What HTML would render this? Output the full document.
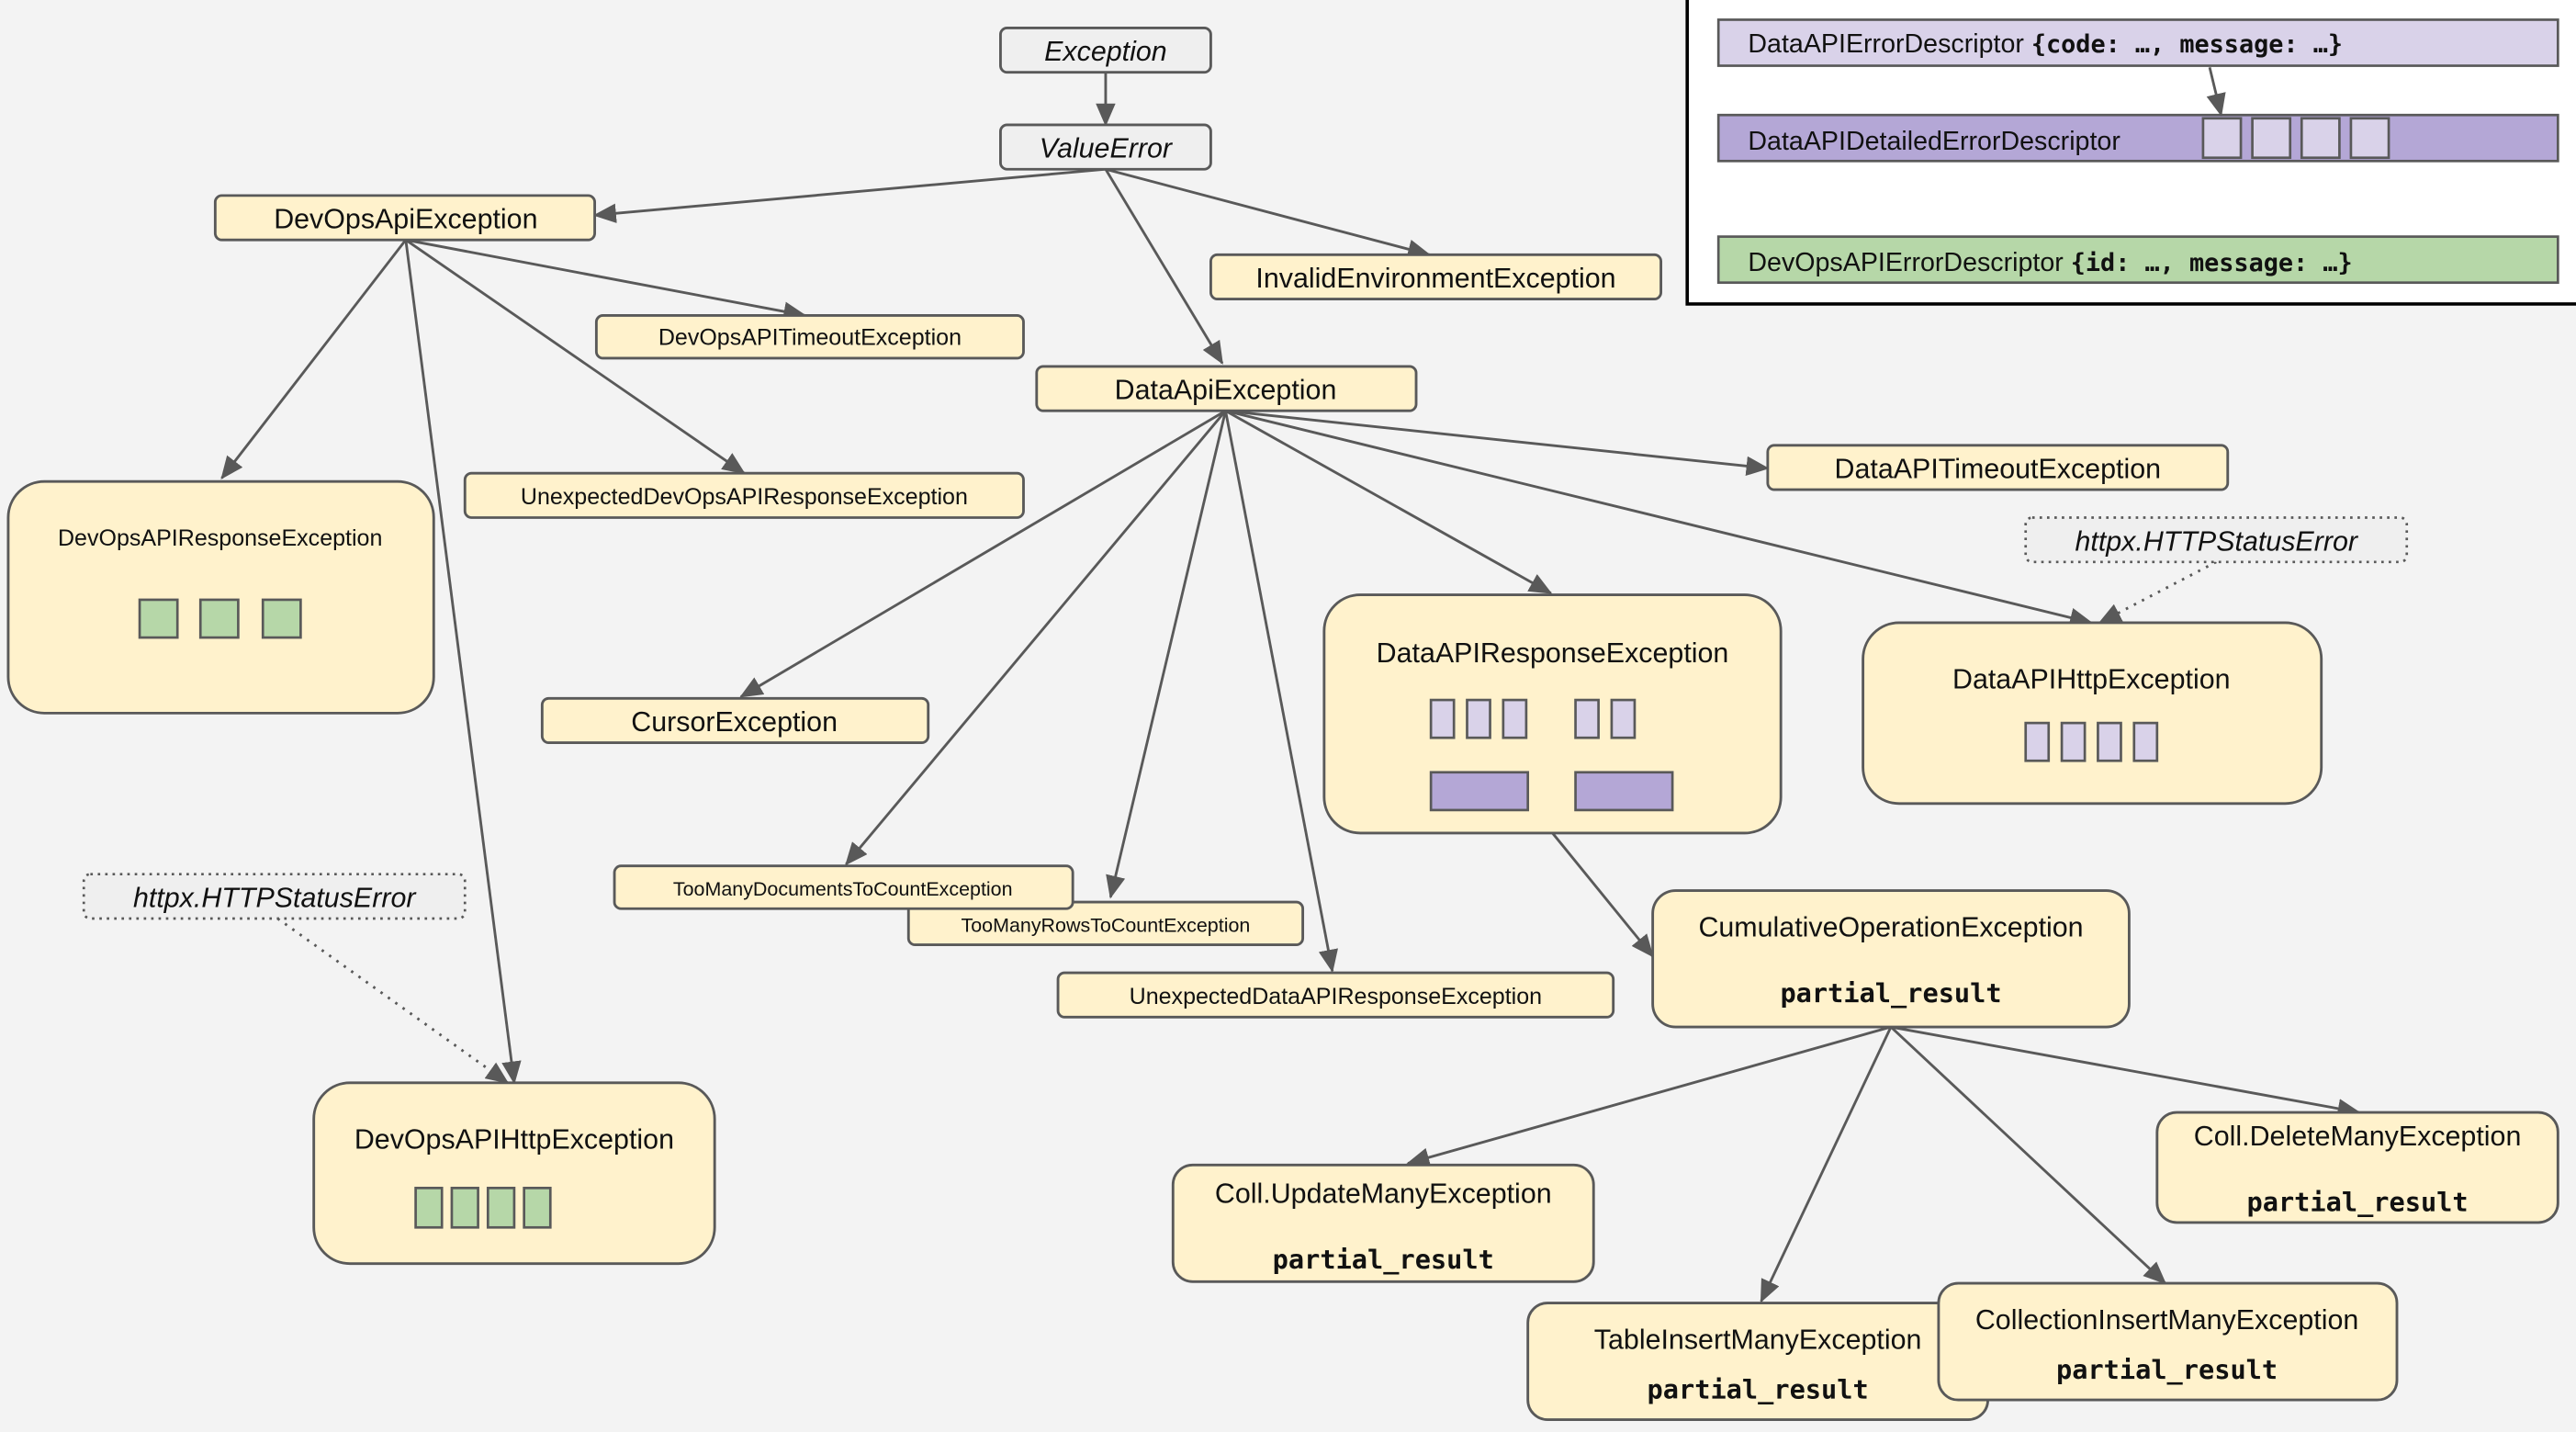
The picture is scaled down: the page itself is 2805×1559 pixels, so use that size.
<!DOCTYPE html>
<html><head><meta charset="utf-8"><style>
html,body{margin:0;padding:0;background:#f3f3f3;}
svg{display:block;}
text{font-family:"Liberation Sans",sans-serif;fill:#111;}
.m{font-family:"DejaVu Sans Mono","Liberation Mono",monospace;font-weight:bold;}
.b{fill:#fff2cc;stroke:#595959;stroke-width:1.6;}
.g{fill:#efefef;stroke:#595959;stroke-width:1.6;}
.e{stroke:#595959;stroke-width:1.6;fill:none;marker-end:url(#a);}
.d{stroke:#595959;stroke-width:1.6;fill:none;stroke-dasharray:1.5 4;marker-end:url(#a);}
.sq{fill:#b6d7a8;stroke:#595959;stroke-width:1.5;}
.lp{fill:#d9d2e9;stroke:#595959;stroke-width:1.5;}
.dp{fill:#b4a7d6;stroke:#595959;stroke-width:1.5;}
</style></head><body>
<svg width="2805" height="1559" viewBox="0 0 1568 871.5" preserveAspectRatio="none">
<defs><marker id="a" markerWidth="10" markerHeight="10" refX="9" refY="5" orient="auto" markerUnits="userSpaceOnUse" viewBox="0 0 10 10"><path d="M0,0 L10,5 L0,10 z" fill="#595959"/></marker>
<marker id="a2" markerWidth="14" markerHeight="12" refX="13" refY="6" orient="auto" markerUnits="userSpaceOnUse"><path d="M0,0 L14,6 L0,12 z" fill="#595959"/></marker></defs>
<rect width="1568" height="872" fill="#f3f3f3"/>
<style>.e,.d{marker-end:url(#a2);}</style>
<!-- legend -->
<rect x="1027" y="-5" width="550" height="190" fill="#fff" stroke="#000" stroke-width="2"/>
<rect x="1046" y="12" width="511" height="28" class="lp"/>
<text x="1064" y="32" font-size="16">DataAPIErrorDescriptor <tspan class="m" font-size="15">{code: …, message: …}</tspan></text>
<rect x="1046" y="70" width="511" height="28" class="dp"/>
<text x="1064" y="91" font-size="16">DataAPIDetailedErrorDescriptor</text>
<rect x="1341" y="72" width="23" height="24" class="lp"/><rect x="1371" y="72" width="23" height="24" class="lp"/><rect x="1401" y="72" width="23" height="24" class="lp"/><rect x="1431" y="72" width="23" height="24" class="lp"/>
<rect x="1046" y="144" width="511" height="28" class="sq"/>
<text x="1064" y="165" font-size="16">DevOpsAPIErrorDescriptor <tspan class="m" font-size="15">{id: …, message: …}</tspan></text>
<line x1="1345" y1="41" x2="1352" y2="70" class="e"/>
<!-- edges -->
<line x1="673" y1="44" x2="673" y2="76" class="e"/>
<line x1="673" y1="103" x2="362" y2="131" class="e"/>
<line x1="673" y1="103" x2="870" y2="155" class="e"/>
<line x1="673" y1="103" x2="744" y2="221" class="e"/>
<line x1="247" y1="146" x2="135" y2="291" class="e"/>
<line x1="247" y1="146" x2="490" y2="192" class="e"/>
<line x1="247" y1="146" x2="453" y2="288" class="e"/>
<line x1="247" y1="146" x2="313" y2="659" class="e"/>
<line x1="746" y1="250" x2="1076" y2="285" class="e"/>
<line x1="746" y1="250" x2="944" y2="361" class="e"/>
<line x1="746" y1="250" x2="1273" y2="379" class="e"/>
<line x1="746" y1="250" x2="451" y2="424" class="e"/>
<line x1="746" y1="250" x2="515" y2="526" class="e"/>
<line x1="746" y1="250" x2="676" y2="546" class="e"/>
<line x1="746" y1="250" x2="811" y2="591" class="e"/>
<line x1="945" y1="507" x2="1006" y2="582" class="e"/>
<line x1="1151" y1="625" x2="857" y2="708" class="e"/>
<line x1="1151" y1="625" x2="1436" y2="677" class="e"/>
<line x1="1151" y1="625" x2="1072" y2="792" class="e"/>
<line x1="1151" y1="625" x2="1318" y2="781" class="e"/>
<line x1="1349" y1="342" x2="1278" y2="379" class="d"/>
<line x1="169" y1="559" x2="309" y2="659" class="d"/>
<!-- nodes -->
<rect x="609" y="17" width="128" height="27" rx="4" class="g"/><text x="673" y="37" font-size="17" font-style="italic" text-anchor="middle">Exception</text>
<rect x="609" y="76" width="128" height="27" rx="4" class="g"/><text x="673" y="96" font-size="17" font-style="italic" text-anchor="middle">ValueError</text>
<rect x="131" y="119" width="231" height="27" rx="4" class="b"/><text x="247" y="139" font-size="17" text-anchor="middle">DevOpsApiException</text>
<rect x="737" y="155" width="274" height="27" rx="4" class="b"/><text x="874" y="175" font-size="17" text-anchor="middle">InvalidEnvironmentException</text>
<rect x="363" y="192" width="260" height="26" rx="4" class="b"/><text x="493" y="210" font-size="14" text-anchor="middle">DevOpsAPITimeoutException</text>
<rect x="631" y="223" width="231" height="27" rx="4" class="b"/><text x="746" y="243" font-size="17" text-anchor="middle">DataApiException</text>
<rect x="283" y="288" width="340" height="27" rx="4" class="b"/><text x="453" y="307" font-size="14" text-anchor="middle">UnexpectedDevOpsAPIResponseException</text>
<rect x="1076" y="271" width="280" height="27" rx="4" class="b"/><text x="1216" y="291" font-size="17" text-anchor="middle">DataAPITimeoutException</text>
<rect x="5" y="293" width="259" height="141" rx="22" class="b"/><text x="134" y="332" font-size="14" text-anchor="middle">DevOpsAPIResponseException</text>
<rect x="85" y="365" width="23" height="23" class="sq"/><rect x="122" y="365" width="23" height="23" class="sq"/><rect x="160" y="365" width="23" height="23" class="sq"/>
<rect x="1233" y="315" width="232" height="27" rx="4" fill="#efefef" stroke="#595959" stroke-width="1.5" stroke-dasharray="1.5 3"/><text x="1349" y="335" font-size="17" font-style="italic" text-anchor="middle">httpx.HTTPStatusError</text>
<rect x="330" y="425" width="235" height="27" rx="4" class="b"/><text x="447" y="445" font-size="17" text-anchor="middle">CursorException</text>
<rect x="806" y="362" width="278" height="145" rx="22" class="b"/><text x="945" y="403" font-size="17" text-anchor="middle">DataAPIResponseException</text>
<rect x="871" y="426" width="14" height="23" class="lp"/><rect x="893" y="426" width="14" height="23" class="lp"/><rect x="915" y="426" width="14" height="23" class="lp"/><rect x="959" y="426" width="14" height="23" class="lp"/><rect x="981" y="426" width="14" height="23" class="lp"/>
<rect x="871" y="470" width="59" height="23" class="dp"/><rect x="959" y="470" width="59" height="23" class="dp"/>
<rect x="1134" y="379" width="279" height="110" rx="22" class="b"/><text x="1273" y="419" font-size="17" text-anchor="middle">DataAPIHttpException</text>
<rect x="1233" y="440" width="14" height="23" class="lp"/><rect x="1255" y="440" width="14" height="23" class="lp"/><rect x="1277" y="440" width="14" height="23" class="lp"/><rect x="1299" y="440" width="14" height="23" class="lp"/>
<rect x="553" y="549" width="240" height="26" rx="4" class="b"/><text x="673" y="567" font-size="12" text-anchor="middle">TooManyRowsToCountException</text>
<rect x="374" y="527" width="279" height="26" rx="4" class="b"/><text x="513" y="545" font-size="12" text-anchor="middle">TooManyDocumentsToCountException</text>
<rect x="644" y="592" width="338" height="27" rx="4" class="b"/><text x="813" y="611" font-size="14" text-anchor="middle">UnexpectedDataAPIResponseException</text>
<rect x="1006" y="542" width="290" height="83" rx="14" class="b"/><text x="1151" y="570" font-size="17" text-anchor="middle">CumulativeOperationException</text><text x="1151" y="610" font-size="16" class="m" text-anchor="middle">partial_result</text>
<rect x="51" y="532" width="232" height="27" rx="4" fill="#efefef" stroke="#595959" stroke-width="1.5" stroke-dasharray="1.5 3"/><text x="167" y="552" font-size="17" font-style="italic" text-anchor="middle">httpx.HTTPStatusError</text>
<rect x="191" y="659" width="244" height="110" rx="22" class="b"/><text x="313" y="699" font-size="17" text-anchor="middle">DevOpsAPIHttpException</text>
<rect x="253" y="723" width="16" height="24" class="sq"/><rect x="275" y="723" width="16" height="24" class="sq"/><rect x="297" y="723" width="16" height="24" class="sq"/><rect x="319" y="723" width="16" height="24" class="sq"/>
<rect x="1313" y="677" width="244" height="67" rx="12" class="b"/><text x="1435" y="697" font-size="17" text-anchor="middle">Coll.DeleteManyException</text><text x="1435" y="737" font-size="16" class="m" text-anchor="middle">partial_result</text>
<rect x="714" y="709" width="256" height="71" rx="12" class="b"/><text x="842" y="732" font-size="17" text-anchor="middle">Coll.UpdateManyException</text><text x="842" y="772" font-size="16" class="m" text-anchor="middle">partial_result</text>
<rect x="930" y="793" width="280" height="71" rx="12" class="b"/><text x="1070" y="821" font-size="17" text-anchor="middle">TableInsertManyException</text><text x="1070" y="851" font-size="16" class="m" text-anchor="middle">partial_result</text>
<rect x="1180" y="781" width="279" height="71" rx="12" class="b"/><text x="1319" y="809" font-size="17" text-anchor="middle">CollectionInsertManyException</text><text x="1319" y="839" font-size="16" class="m" text-anchor="middle">partial_result</text>
</svg>
</body></html>
